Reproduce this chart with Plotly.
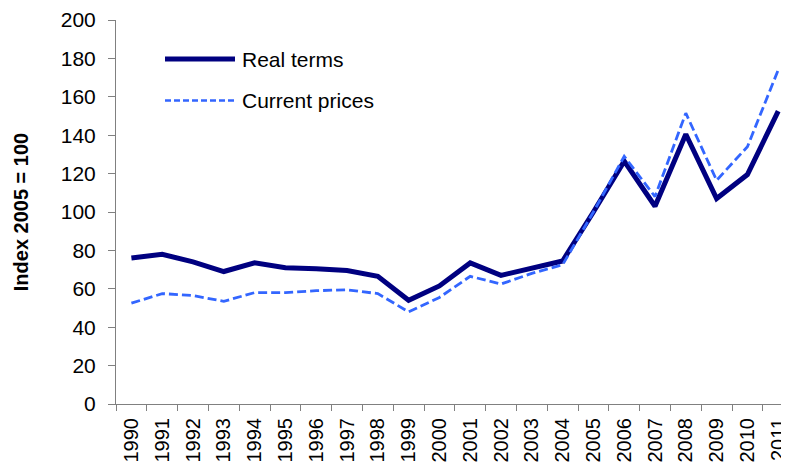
import plotly.graph_objects as go

years = [str(y) for y in range(1990, 2012)]
real_terms = [76, 78, 74, 69, 73.5, 71, 70.5, 69.5, 66.5, 54, 61.5, 73.5, 67, 70.5, 74.5, 100, 126.5, 103, 140.5, 107, 119.5, 152.5]
current_prices = [52.5, 57.5, 56.5, 53.5, 58, 58, 59, 59.5, 57.5, 48, 55.5, 66.5, 62.5, 68, 72.5, 100, 129, 108, 151.5, 116.5, 134, 174]
y_ticks = list(range(0, 201, 20))
series_names = ["Real terms", "Current prices"]

FONT = "Arial, Liberation Sans, sans-serif"
REAL_COLOR = "#000080"
CUR_COLOR = "#3366FF"

fig = go.Figure()
fig.add_trace(go.Scatter(x=years, y=real_terms, mode="lines", name=series_names[0],
                         line=dict(color=REAL_COLOR, width=5), showlegend=False))
fig.add_trace(go.Scatter(x=years, y=current_prices, mode="lines", name=series_names[1],
                         line=dict(color=CUR_COLOR, width=2.8, dash="9px,4px"), showlegend=False))

# page body has an 8px margin: figure is sized/offset to compensate
OFF = 8
W_PLOT, H_PLOT = 673, 384
def px_x(p):
    return (p - 116) / W_PLOT
def px_y(p):
    return (404 - p) / H_PLOT

legend_items = [
    (series_names[0], 59, dict(color=REAL_COLOR, width=5)),
    (series_names[1], 100.5, dict(color=CUR_COLOR, width=2.5, dash="6px,3px")),
]
for name, ypx, ln in legend_items:
    fig.add_shape(type="line", xref="paper", yref="paper",
                  x0=px_x(165), x1=px_x(235), y0=px_y(ypx), y1=px_y(ypx), line=ln)
    fig.add_annotation(xref="paper", yref="paper", x=px_x(240), y=px_y(ypx),
                       xanchor="left", yanchor="middle", text=name, showarrow=False,
                       font=dict(size=21, family=FONT, color="black"))

fig.update_layout(
    width=789 - OFF, height=465 - OFF,
    margin=dict(l=116 - OFF, r=0, t=20 - OFF, b=61, pad=0),
    paper_bgcolor="white", plot_bgcolor="white",
    font=dict(family=FONT, size=21, color="black"),
    showlegend=False,
)
fig.update_xaxes(type="category", tickson="boundaries", ticks="outside", ticklen=6,
                 tickcolor="#808080", showline=True, linecolor="#808080", linewidth=1,
                 showgrid=False, tickangle=-90, tickfont=dict(size=20, family=FONT),
                 ticklabelstandoff=5, range=[-0.5, 21.35], automargin=False)
fig.update_yaxes(range=[0, 200], tickvals=y_ticks, ticks="outside", ticklen=7,
                 tickcolor="#808080", showline=True, linecolor="#808080", linewidth=1,
                 showgrid=False, zeroline=False, tickfont=dict(size=21, family=FONT),
                 ticklabelstandoff=8, automargin=False,
                 title=dict(text="<b>Index 2005 = 100</b>", font=dict(size=20, family=FONT), standoff=26))

fig.write_html("out.html")
